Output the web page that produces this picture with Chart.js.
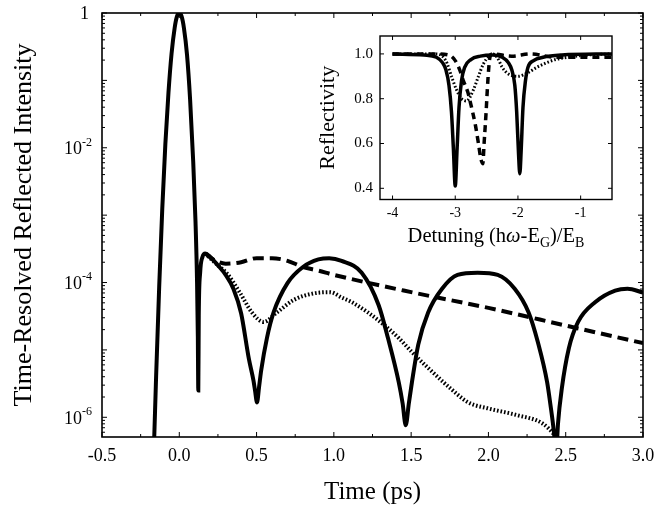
<!DOCTYPE html>
<html>
<head>
<meta charset="utf-8">
<script src="https://cdn.jsdelivr.net/npm/chart.js@4.4.1/dist/chart.umd.min.js"></script>
<style>
  html, body { margin: 0; padding: 0; background: #fff; }
  #wrap { position: relative; width: 669px; height: 510px; }
  #main { position: absolute; left: 0; top: 0; }
  #inset { position: absolute; left: 305px; top: 20px; }
</style>
</head>
<body>
<div id="wrap">
  <canvas id="main" width="669" height="510"></canvas>
  <canvas id="inset" width="315" height="240"></canvas>
</div>
<script>
// ---- main panel: time-resolved reflected intensity (log scale) ----
const solidTime = [-0.165, -0.15, -0.13, -0.11, -0.09, -0.07, -0.05, -0.03, -0.015, 0, 0.015, 0.03, 0.05, 0.07, 0.09, 0.105, 0.115, 0.12, 0.123, 0.126, 0.135, 0.15, 0.168, 0.2, 0.25, 0.3, 0.35, 0.4, 0.45, 0.48, 0.49, 0.503, 0.516, 0.53, 0.567, 0.61, 0.7, 0.8, 0.9, 0.97, 1.05, 1.18, 1.29, 1.35, 1.42, 1.445, 1.465, 1.485, 1.505, 1.546, 1.61, 1.7, 1.8, 1.93, 2.06, 2.17, 2.26, 2.32, 2.38, 2.4, 2.425, 2.437, 2.45, 2.475, 2.52, 2.58, 2.69, 2.82, 2.9, 3.0];
const solidIntensity = [3e-7, 4e-6, 8.7e-5, 1.26e-3, 1.15e-2, 6.6e-2, 0.25, 0.6, 0.89, 1, 0.89, 0.6, 0.24, 5.2e-2, 6.3e-3, 7.9e-4, 1e-4, 1.6e-5, 2.5e-6, 3.2e-5, 1.4e-4, 2.4e-4, 2.7e-4, 2.4e-4, 1.8e-4, 1.3e-4, 8.1e-5, 3.5e-5, 7.4e-6, 3.5e-6, 2.5e-6, 1.66e-6, 2.8e-6, 5e-6, 1.5e-5, 3.6e-5, 9.8e-5, 1.7e-4, 2.2e-4, 2.3e-4, 2.1e-4, 1.4e-4, 4.6e-5, 1.5e-5, 3.3e-6, 1.6e-6, 7.6e-7, 1.6e-6, 3.3e-6, 1.2e-5, 3.6e-5, 8.1e-5, 1.3e-4, 1.4e-4, 1.3e-4, 8.1e-5, 3.6e-5, 1.3e-5, 3.3e-6, 1.6e-6, 5.6e-7, 2.5e-7, 8e-7, 2.7e-6, 1.05e-5, 2.6e-5, 5.1e-5, 7.6e-5, 8.1e-5, 7.1e-5];

const dashedTime = [0.168, 0.22, 0.3, 0.4, 0.5, 0.6, 0.7, 0.8, 0.9, 1.0, 1.5, 2.0, 2.5, 3.0];
const dashedIntensity = [2.7e-4, 2.2e-4, 1.9e-4, 2.0e-4, 2.3e-4, 2.3e-4, 2.1e-4, 1.7e-4, 1.5e-4, 1.3e-4, 7.2e-5, 4.2e-5, 2.3e-5, 1.26e-5];

const dottedTime = [0.168, 0.2, 0.25, 0.31, 0.395, 0.47, 0.545, 0.632, 0.74, 0.87, 0.975, 1.05, 1.117, 1.22, 1.33, 1.42, 1.505, 1.61, 1.753, 1.87, 2.0, 2.19, 2.35, 2.43, 2.5];
const dottedIntensity = [2.7e-4, 2.3e-4, 1.8e-4, 1.35e-4, 6.9e-5, 3.6e-5, 2.6e-5, 3.6e-5, 5.5e-5, 6.9e-5, 7.2e-5, 6.0e-5, 5.1e-5, 3.6e-5, 2.3e-5, 1.5e-5, 9.3e-6, 5.4e-6, 2.7e-6, 1.66e-6, 1.35e-6, 1.07e-6, 8.1e-7, 5.4e-7, 3.2e-7];

const timeTicks = [-0.5, 0, 0.5, 1.0, 1.5, 2.0, 2.5, 3.0];
const timeMinorTicks = [-0.25, 0.25, 0.75, 1.25, 1.75, 2.25, 2.75];
const intensityLabelExponents = [0, -2, -4, -6];
const intensityDecadeExponents = [0, -1, -2, -3, -4, -5, -6];

// ---- inset: reflectivity spectra ----
const insetSolidDetuning = [-4.0, -3.5, -3.3, -3.2, -3.15, -3.1, -3.06, -3.03, -3.0, -2.97, -2.94, -2.9, -2.85, -2.75, -2.6, -2.4, -2.25, -2.15, -2.1, -2.05, -2.02, -1.99, -1.97, -1.95, -1.92, -1.88, -1.84, -1.75, -1.6, -1.3, -0.5];
const insetSolidReflectivity = [1.0, 0.995, 0.985, 0.96, 0.93, 0.86, 0.74, 0.58, 0.41, 0.58, 0.76, 0.88, 0.94, 0.975, 0.99, 0.995, 0.985, 0.96, 0.93, 0.86, 0.74, 0.55, 0.465, 0.56, 0.76, 0.88, 0.94, 0.97, 0.985, 0.995, 1.0];

const insetDashedDetuning = [-4.0, -3.3, -3.1, -3.0, -2.93, -2.87, -2.8, -2.76, -2.68, -2.63, -2.59, -2.56, -2.54, -2.51, -2.48, -2.45, -2.41, -2.1, -1.8, -1.4, -0.5];
const insetDashedReflectivity = [1.0, 1.0, 0.995, 0.97, 0.93, 0.88, 0.83, 0.785, 0.684, 0.6, 0.53, 0.51, 0.6, 0.73, 0.88, 0.98, 1.0, 0.99, 1.0, 0.985, 0.985];

const insetDottedDetuning = [-4.0, -3.3, -3.15, -3.06, -2.98, -2.9, -2.82, -2.71, -2.63, -2.55, -2.46, -2.41, -2.33, -2.25, -2.15, -2.0, -1.85, -1.7, -1.55, -1.4, -1.2, -0.9, -0.5];
const insetDottedReflectivity = [1.0, 1.0, 0.97, 0.9, 0.84, 0.8, 0.79, 0.84, 0.9, 0.956, 0.99, 1.0, 0.984, 0.94, 0.91, 0.9, 0.915, 0.94, 0.96, 0.975, 0.985, 0.995, 1.0];

const detuningTicks = [-4, -3, -2, -1];
const reflectivityTicks = [0.4, 0.6, 0.8, 1.0];

const SERIF = "'Liberation Serif', 'Times New Roman', serif";

const pts = (xs, ys) => xs.map((x, i) => ({ x, y: ys[i] }));

// draw a run of text pieces, some of them raised or lowered
function drawRich(ctx, parts, x, y, align, size) {
  const fonts = parts.map(p => {
    const s = (p.sub || p.sup) ? Math.round(size * 0.68) : size;
    return `${p.italic ? 'italic ' : ''}${s}px ${SERIF}`;
  });
  let total = 0;
  const widths = parts.map((p, i) => {
    ctx.font = fonts[i];
    const w = ctx.measureText(p.t).width;
    total += w;
    return w;
  });
  let cx = align === 'right' ? x - total : align === 'center' ? x - total / 2 : x;
  ctx.textAlign = 'left';
  parts.forEach((p, i) => {
    ctx.font = fonts[i];
    const dy = p.sub ? size * 0.28 : p.sup ? -size * 0.4 : 0;
    ctx.fillText(p.t, cx, y + dy);
    cx += widths[i];
  });
}

// box round the plot area with inward tick marks on all four sides
function makeFrame(cfg) {
  return {
    id: 'frame',
    afterDatasetsDraw(chart) {
      const { ctx, chartArea: a, scales: { x, y } } = chart;
      ctx.save();
      ctx.strokeStyle = '#000';
      ctx.lineWidth = 1;
      ctx.beginPath();
      const xMark = (v, len) => {
        const px = x.getPixelForValue(v);
        ctx.moveTo(px, a.bottom); ctx.lineTo(px, a.bottom - len);
        ctx.moveTo(px, a.top); ctx.lineTo(px, a.top + len);
      };
      const yMark = (v, len) => {
        const py = y.getPixelForValue(v);
        if (py < a.top - 0.5 || py > a.bottom + 0.5) return;
        ctx.moveTo(a.left, py); ctx.lineTo(a.left + len, py);
        ctx.moveTo(a.right, py); ctx.lineTo(a.right - len, py);
      };
      cfg.xMajor.forEach(v => xMark(v, cfg.majorLen));
      (cfg.xMinor || []).forEach(v => xMark(v, cfg.minorLen));
      cfg.yMajor.forEach(v => yMark(v, cfg.majorLen));
      (cfg.yMinor || []).forEach(v => yMark(v, cfg.minorLen));
      ctx.stroke();
      ctx.lineWidth = cfg.frameWidth;
      ctx.strokeRect(a.left, a.top, a.right - a.left, a.bottom - a.top);
      ctx.restore();
    }
  };
}

// minor log ticks 2..9 in each decade
const intensityMinor = [];
intensityDecadeExponents.concat([-7]).forEach(e => {
  for (let m = 2; m <= 9; m++) intensityMinor.push(m * Math.pow(10, e));
});

const intensityLabels = {
  id: 'intensityLabels',
  afterDraw(chart) {
    const { ctx, chartArea: a, scales: { y } } = chart;
    ctx.save();
    ctx.fillStyle = '#000';
    ctx.textBaseline = 'middle';
    intensityLabelExponents.forEach(e => {
      const py = y.getPixelForValue(Math.pow(10, e));
      if (e === 0) {
        drawRich(ctx, [{ t: '1' }], a.left - 13, py + 1, 'right', 18);
      } else {
        drawRich(ctx, [{ t: '10' }, { t: String(e), sup: true }], a.left - 10, py + 2, 'right', 18);
      }
    });
    ctx.restore();
  }
};

const lineBase = { borderColor: '#000', pointRadius: 0, fill: false, cubicInterpolationMode: 'monotone' };

new Chart(document.getElementById('main'), {
  type: 'line',
  data: {
    datasets: [
      { ...lineBase, data: pts(solidTime, solidIntensity), borderWidth: 4 },
      { ...lineBase, data: pts(dashedTime, dashedIntensity), borderWidth: 4, borderDash: [11, 6] },
      { ...lineBase, data: pts(dottedTime, dottedIntensity), borderWidth: 4, borderDash: [1.6, 2] }
    ]
  },
  options: {
    responsive: false,
    animation: false,
    layout: { padding: { left: 0, top: 13, right: 26, bottom: 0 } },
    plugins: { legend: { display: false }, tooltip: { enabled: false } },
    scales: {
      x: {
        type: 'linear', min: -0.5, max: 3.0,
        afterBuildTicks: s => { s.ticks = timeTicks.map(v => ({ value: v })); },
        afterFit: s => { s.height = 73; },
        grid: { display: false, drawTicks: false },
        border: { display: false },
        ticks: {
          color: '#000', padding: 8, maxRotation: 0, autoSkip: false,
          font: { family: SERIF, size: 18 },
          callback: v => v.toFixed(1)
        },
        title: {
          display: true, text: 'Time (ps)', color: '#000',
          font: { family: SERIF, size: 25 }, padding: { top: 0, bottom: 3 }
        }
      },
      y: {
        type: 'logarithmic', min: 5.1e-7, max: 1,
        afterFit: s => { s.width = 102; },
        grid: { display: false, drawTicks: false },
        border: { display: false },
        ticks: { display: false },
        title: {
          display: true, text: 'Time-Resolved Reflected Intensity', color: '#000',
          font: { family: SERIF, size: 26 }, padding: { top: 9, bottom: 0 }
        }
      }
    }
  },
  plugins: [makeFrame({
    xMajor: timeTicks, xMinor: timeMinorTicks,
    yMajor: intensityDecadeExponents.map(e => Math.pow(10, e)), yMinor: intensityMinor,
    majorLen: 5, minorLen: 3, frameWidth: 1.6
  }), intensityLabels]
});

// ---- inset ----
const detuningTitle = {
  id: 'detuningTitle',
  afterDraw(chart) {
    const { ctx, chartArea: a } = chart;
    ctx.save();
    ctx.fillStyle = '#000';
    ctx.textBaseline = 'alphabetic';
    drawRich(ctx, [
      { t: 'Detuning (h' }, { t: 'ω', italic: true }, { t: '-E' }, { t: 'G', sub: true },
      { t: ')/E' }, { t: 'B', sub: true }
    ], (a.left + a.right) / 2, a.bottom + 42, 'center', 20.5);
    ctx.restore();
  }
};

new Chart(document.getElementById('inset'), {
  type: 'line',
  data: {
    datasets: [
      { ...lineBase, data: pts(insetSolidDetuning, insetSolidReflectivity), borderWidth: 3.5 },
      { ...lineBase, data: pts(insetDashedDetuning, insetDashedReflectivity), borderWidth: 3.5, borderDash: [7, 5] },
      { ...lineBase, data: pts(insetDottedDetuning, insetDottedReflectivity), borderWidth: 3, borderDash: [1.6, 2] }
    ]
  },
  options: {
    responsive: false,
    animation: false,
    layout: { padding: { left: 0, top: 9, right: 8, bottom: 0 } },
    plugins: { legend: { display: false }, tooltip: { enabled: false } },
    scales: {
      x: {
        type: 'linear', min: -4.2, max: -0.5,
        afterBuildTicks: s => { s.ticks = detuningTicks.map(v => ({ value: v })); },
        afterFit: s => { s.height = 60.5; },
        grid: { display: false, drawTicks: false },
        border: { display: false },
        ticks: {
          color: '#000', padding: 5, maxRotation: 0, autoSkip: false,
          font: { family: SERIF, size: 14 },
          callback: v => String(v)
        }
      },
      y: {
        type: 'linear', min: 0.35, max: 1.08,
        afterBuildTicks: s => { s.ticks = reflectivityTicks.map(v => ({ value: v })); },
        afterFit: s => { s.width = 75; },
        grid: { display: false, drawTicks: false },
        border: { display: false },
        ticks: {
          color: '#000', padding: 7, autoSkip: false,
          font: { family: SERIF, size: 15 },
          callback: v => v.toFixed(1)
        },
        title: {
          display: true, text: 'Reflectivity', color: '#000',
          font: { family: SERIF, size: 22 }, padding: { top: 10, bottom: 0 }
        }
      }
    }
  },
  plugins: [makeFrame({
    xMajor: detuningTicks, yMajor: reflectivityTicks,
    majorLen: 4, minorLen: 2, frameWidth: 1.4
  }), detuningTitle]
});
</script>
</body>
</html>
